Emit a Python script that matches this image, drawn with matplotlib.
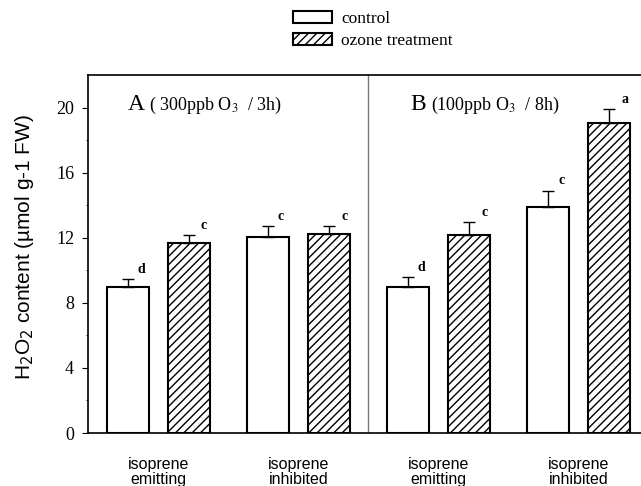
import matplotlib
matplotlib.use("Agg")
import matplotlib.pyplot as plt
import numpy as np
from matplotlib.patches import Patch

groups = ["isoprene\nemitting", "isoprene\ninhibited", "isoprene\nemitting", "isoprene\ninhibited"]
control = [9.0, 12.05, 9.0, 13.9]
control_err = [0.45, 0.65, 0.6, 1.0]
ozone = [11.65, 12.2, 12.15, 19.05]
ozone_err = [0.5, 0.5, 0.8, 0.85]
control_letters = ["d", "c", "d", "c"]
ozone_letters = ["c", "c", "c", "a"]

serif = "Liberation Serif"
sans = "Liberation Sans"

plt.rcParams["hatch.linewidth"] = 1.0

fig = plt.figure(figsize=(6.41, 4.86), dpi=100)
ax = fig.add_axes([0.1373, 0.109, 0.8627, 0.7367])

centers = 1.15 + 2.3 * np.arange(len(groups))
w = 0.69
off = 0.5
ekw = dict(ecolor="black", elinewidth=1, capsize=4, capthick=1)

for i in range(len(groups)):
    ax.bar(centers[i] - off, control[i], w, color="white", edgecolor="black", linewidth=1.5,
           yerr=[[0], [control_err[i]]], error_kw=ekw)
    ax.bar(centers[i] + off, ozone[i], w, color="white", edgecolor="black", linewidth=1.5, hatch="////",
           yerr=[[0], [ozone_err[i]]], error_kw=ekw)
    ax.text(centers[i] - off + 0.16, control[i] + control_err[i] + 0.2, control_letters[i],
            fontfamily=serif, fontweight="bold", fontsize=10, ha="left", va="bottom")
    ax.text(centers[i] + off + 0.2, ozone[i] + ozone_err[i] + 0.2, ozone_letters[i],
            fontfamily=serif, fontweight="bold", fontsize=10, ha="left", va="bottom")

ax.axvline(4.6, color="#777777", linewidth=1)

ax.set_xlim(0, 9.07)
ax.set_ylim(0, 22)
ax.set_yticks([0, 4, 8, 12, 16, 20])
ax.set_yticks([2, 6, 10, 14, 18], minor=True)
ax.tick_params(axis="y", which="major", direction="out", length=4, labelsize=13, pad=6)
ax.tick_params(axis="y", which="minor", direction="out", length=1.5)
for lab in ax.get_yticklabels():
    lab.set_fontfamily(serif)
ax.set_xticks(centers)
ax.set_xticklabels(groups, fontfamily=sans, fontsize=11.5, linespacing=1.0)
ax.tick_params(axis="x", length=0, pad=17)
ax.spines["right"].set_visible(False)
for s in ["left", "top", "bottom"]:
    ax.spines[s].set_linewidth(1.2)

ax.set_ylabel("H$_2$O$_2$ content (\u00b5mol g-1 FW)", fontfamily=sans, fontsize=15)
ax.yaxis.set_label_coords(-0.094, 0.52)

ax.text(0.65, 20.2, "A", fontfamily=serif, fontsize=17, va="center", ha="left")
ax.text(1.0, 20.1, "( 300ppb O$_3$  / 3h)", fontfamily=serif, fontsize=13, va="center", ha="left",
        math_fontfamily="stix")
ax.text(5.28, 20.2, "B", fontfamily=serif, fontsize=17, va="center", ha="left")
ax.text(5.63, 20.1, "(100ppb O$_3$  / 8h)", fontfamily=serif, fontsize=13, va="center", ha="left",
        math_fontfamily="stix")

handles = [Patch(facecolor="white", edgecolor="black", linewidth=1.5, label="control"),
           Patch(facecolor="white", edgecolor="black", linewidth=1.5, hatch="////", label="ozone treatment")]
fig.legend(handles=handles, loc="upper left", bbox_to_anchor=(293 / 641, 1 - 11 / 486), frameon=False,
           prop={"family": serif, "size": 12.5}, handlelength=2.24, handleheight=0.63,
           labelspacing=0.36, handletextpad=0.52, borderpad=0, borderaxespad=0)

fig.savefig("out.png", dpi=100)
